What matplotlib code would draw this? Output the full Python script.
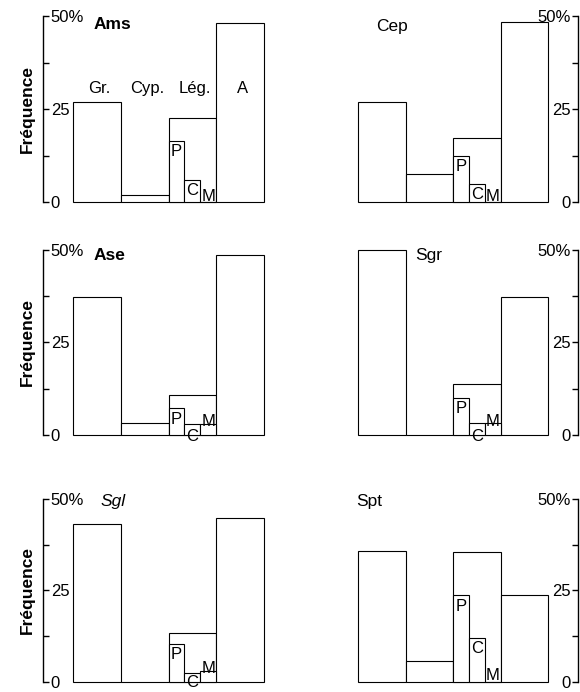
import numpy as np
import matplotlib.pyplot as plt

plt.rcParams['font.family'] = ['Liberation Sans', 'DejaVu Sans']

# groups of food items, per fish species (% frequency)
panels = ['Ams', 'Cep', 'Ase', 'Sgr', 'Sgl', 'Spt']
categories = ['Gr.', 'Cyp.', 'Lég.', 'A']
gr = [27.0, 27.0, 37.2, 50.0, 43.1, 35.7]
cyp = [1.9, 7.6, 3.4, 0.0, 0.0, 5.7]
leg = [22.5, 17.2, 10.9, 13.7, 13.3, 35.5]
a = [48.2, 48.5, 48.5, 37.2, 44.8, 23.6]
# legume subdivisions
sub_labels = ['P', 'C', 'M']
p = [16.5, 12.5, 7.3, 10.1, 10.4, 23.7]
c = [5.9, 4.9, 3.0, 3.2, 2.4, 11.8]
m = [0.0, 0.0, 3.0, 3.2, 3.0, 0.0]

yticks = [0, 25, 50]
yticklabels = ['0', '25', '50%']

fig = plt.figure(figsize=(5.8, 6.92), dpi=100)
W, H = 580, 692

# (bottom px, height px) per row
rows = [(490, 186), (256.7, 185.8), (10.5, 182.5)]
title_pos = [(-0.08, 47.6), (-0.12, 47.2), (-0.08, 48.5),
             (0.70, 48.5), (0.07, 49.4), (-0.53, 49.3)]
title_style = ['bold', 'normal', 'bold', 'normal', 'normal', 'normal']

x = np.arange(4)
sub_x = 2 + np.array([-1, 0, 1]) / 3

for i, name in enumerate(panels):
    row, col = divmod(i, 2)
    bottom, height = rows[row]
    if col == 0:
        left, xlim = 43, (-1.13, 3.6)
        width = (xlim[1] - xlim[0]) * 47.75
    else:
        xlim = (-0.6, 4.13)
        width = (xlim[1] - xlim[0]) * 47.5
        left = 578 - width
    ax = fig.add_axes([left / W, bottom / H, width / W, height / H])

    vals = [gr[i], cyp[i], leg[i], a[i]]
    ax.bar(x, vals, width=1, color='white', edgecolor='black',
           linewidth=0.8, clip_on=False)
    ax.bar(sub_x, [p[i], c[i], m[i]], width=1 / 3, color='white',
           edgecolor='black', linewidth=0.8, clip_on=False)

    # sub-bar letters
    ax.text(sub_x[0], p[i] - 1.0, 'P', ha='center', va='top', fontsize=12)
    if c[i] >= 4:
        ax.text(sub_x[1], c[i] - 0.8, 'C', ha='center', va='top', fontsize=12)
    else:
        ax.text(sub_x[1], -0.3, 'C', ha='center', va='center', fontsize=12,
                clip_on=False)
    ax.text(sub_x[2], max(m[i] - 0.6, 0.3), 'M', ha='center', va='baseline',
            fontsize=12)

    tx, ty = title_pos[i]
    ax.text(tx, ty, name, ha='left', va='center', fontsize=12.5,
            fontweight=title_style[i], style='italic' if name == 'Sgl' else 'normal')

    if i == 0:
        for xi, cat in zip(x, categories):
            ax.text(xi + 0.05, 30.6, cat, ha='center', va='center', fontsize=12)

    ax.set_xlim(*xlim)
    ax.set_ylim(0, 50)
    ax.set_xticks([])
    for s in ['top', 'bottom', 'left', 'right']:
        ax.spines[s].set_visible(False)

    side = 'left' if col == 0 else 'right'
    ax.spines[side].set_visible(True)
    ax.spines[side].set_bounds(0, 50)
    ax.spines[side].set_linewidth(1.0)
    if col == 1:
        ax.yaxis.tick_right()
    ax.set_yticks([12.5, 37.5], minor=True)
    ax.set_yticks(yticks)
    ax.set_yticklabels(yticklabels, ha='left' if col == 0 else 'right')
    ax.tick_params(axis='y', which='both', direction='in', length=4.5,
                   width=1.0, pad=-5.5, labelsize=12)
    ax.patch.set_visible(False)

    if col == 0:
        fig.text(27 / W, (bottom + height / 2) / H, 'Fréquence', rotation=90,
                 ha='center', va='center', fontsize=12.5, fontweight='bold')

fig.savefig('out.png', dpi=100)
